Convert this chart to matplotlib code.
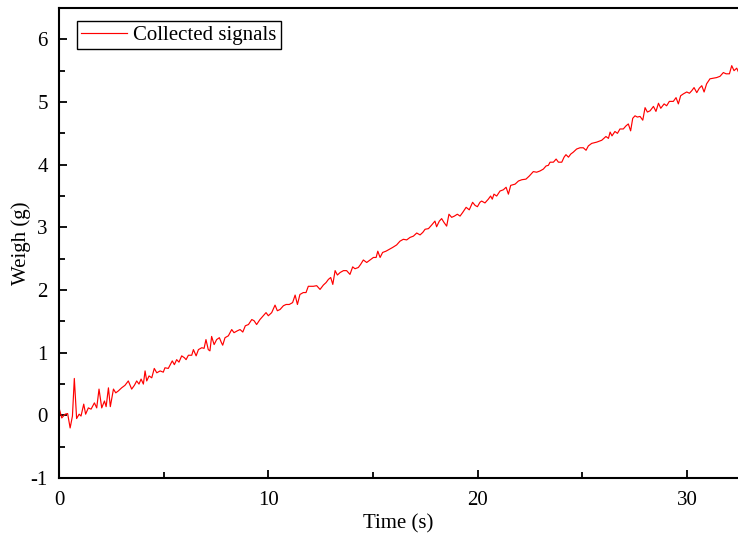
import matplotlib
matplotlib.use("Agg")
import matplotlib.pyplot as plt
from matplotlib.ticker import MultipleLocator

# time (s) and weight (g)
time_s = [0.00, 0.13, 0.29, 0.41, 0.53, 0.64, 0.73, 0.84, 0.96, 1.05, 1.18, 1.27, 1.40, 1.53, 1.69,
          1.80, 1.91, 2.04, 2.17, 2.25, 2.36, 2.45, 2.60, 2.71, 2.83, 2.99, 3.15, 3.31, 3.47, 3.60,
          3.71, 3.82, 3.92, 4.03, 4.11, 4.19, 4.30, 4.43, 4.55, 4.67, 4.83, 4.98, 5.06, 5.22, 5.41,
          5.51, 5.62, 5.73, 5.86, 5.99, 6.07, 6.18, 6.34, 6.42, 6.55, 6.66, 6.82, 6.93, 7.02, 7.13,
          7.21, 7.29, 7.41, 7.53, 7.66, 7.76, 7.82, 7.93, 8.09, 8.25, 8.36, 8.52, 8.65, 8.78, 8.90,
          9.05, 9.21, 9.32, 9.44, 9.60, 9.76, 9.89, 10.00, 10.16, 10.32, 10.43, 10.56, 10.72, 10.85, 11.00,
          11.16, 11.28, 11.39, 11.51, 11.67, 11.80, 11.91, 11.99, 12.15, 12.31, 12.47, 12.63, 12.76, 12.87, 12.98,
          13.08, 13.19, 13.30, 13.43, 13.59, 13.74, 13.90, 14.03, 14.14, 14.30, 14.41, 14.54, 14.70, 14.86, 15.02,
          15.15, 15.23, 15.34, 15.46, 15.62, 15.78, 15.94, 16.13, 16.29, 16.45, 16.61, 16.77, 16.93, 17.09, 17.25,
          17.38, 17.49, 17.65, 17.81, 17.96, 18.04, 18.17, 18.28, 18.39, 18.52, 18.63, 18.76, 18.89, 19.03, 19.16,
          19.29, 19.45, 19.60, 19.76, 19.88, 19.99, 20.11, 20.19, 20.35, 20.51, 20.62, 20.70, 20.78, 20.91, 21.07,
          21.23, 21.36, 21.47, 21.58, 21.79, 21.95, 22.11, 22.31, 22.47, 22.66, 22.82, 22.98, 23.14, 23.27, 23.38,
          23.46, 23.62, 23.75, 23.86, 24.02, 24.13, 24.22, 24.34, 24.45, 24.57, 24.73, 24.89, 25.05, 25.18, 25.29,
          25.45, 25.69, 25.93, 26.13, 26.25, 26.33, 26.42, 26.56, 26.68, 26.80, 26.96, 27.09, 27.20, 27.31, 27.41,
          27.52, 27.63, 27.76, 27.89, 28.00, 28.11, 28.24, 28.40, 28.52, 28.64, 28.75, 28.91, 29.03, 29.16, 29.19,
          29.35, 29.48, 29.59, 29.70, 29.83, 29.99, 30.12, 30.23, 30.34, 30.47, 30.59, 30.71, 30.82, 30.94, 31.10,
          31.26, 31.42, 31.58, 31.74, 31.87, 32.03, 32.14, 32.25, 32.38, 32.50]
weight_g = [0.12, -0.04, 0.02, 0.03, -0.20, -0.01, 0.59, -0.05, 0.02, -0.01, 0.18, 0.02, 0.12, 0.10, 0.20,
            0.12, 0.42, 0.12, 0.23, 0.14, 0.44, 0.14, 0.42, 0.36, 0.39, 0.44, 0.48, 0.55, 0.42, 0.48,
            0.55, 0.50, 0.58, 0.50, 0.71, 0.55, 0.63, 0.60, 0.75, 0.68, 0.71, 0.69, 0.76, 0.75, 0.87,
            0.81, 0.89, 0.85, 0.95, 0.92, 0.89, 0.96, 0.96, 1.05, 0.95, 1.05, 1.08, 1.07, 1.21, 1.05,
            1.03, 1.26, 1.13, 1.21, 1.24, 1.16, 1.12, 1.24, 1.27, 1.37, 1.32, 1.35, 1.37, 1.33, 1.43,
            1.45, 1.53, 1.51, 1.45, 1.53, 1.59, 1.64, 1.59, 1.64, 1.76, 1.67, 1.69, 1.75, 1.77, 1.77,
            1.80, 1.92, 1.77, 1.93, 1.96, 1.96, 2.06, 2.06, 2.06, 2.07, 2.01, 2.08, 2.12, 2.17, 2.20,
            2.09, 2.31, 2.24, 2.28, 2.31, 2.31, 2.25, 2.37, 2.34, 2.36, 2.41, 2.48, 2.44, 2.48, 2.52,
            2.52, 2.62, 2.52, 2.60, 2.62, 2.65, 2.68, 2.72, 2.78, 2.81, 2.80, 2.84, 2.86, 2.91, 2.88,
            2.92, 2.97, 2.98, 3.04, 3.10, 3.01, 3.10, 3.14, 3.08, 3.02, 3.21, 3.16, 3.18, 3.21, 3.18,
            3.24, 3.32, 3.28, 3.40, 3.35, 3.33, 3.40, 3.42, 3.39, 3.45, 3.50, 3.45, 3.53, 3.50, 3.58,
            3.60, 3.64, 3.53, 3.67, 3.69, 3.74, 3.76, 3.77, 3.82, 3.89, 3.88, 3.90, 3.93, 3.98, 3.99,
            4.04, 4.04, 4.09, 4.04, 4.04, 4.12, 4.16, 4.12, 4.17, 4.20, 4.25, 4.27, 4.27, 4.23, 4.30,
            4.34, 4.36, 4.39, 4.45, 4.42, 4.52, 4.46, 4.53, 4.50, 4.57, 4.57, 4.62, 4.65, 4.54, 4.74,
            4.78, 4.76, 4.77, 4.71, 4.91, 4.84, 4.86, 4.93, 4.85, 4.98, 4.90, 4.97, 4.94, 5.01, 5.01,
            5.01, 5.07, 4.97, 5.10, 5.13, 5.16, 5.14, 5.18, 5.23, 5.15, 5.22, 5.26, 5.16, 5.29, 5.37,
            5.38, 5.39, 5.41, 5.47, 5.45, 5.45, 5.58, 5.50, 5.54, 5.45]

plt.rcParams['font.family'] = ['Liberation Serif', 'DejaVu Serif']
plt.rcParams['axes.unicode_minus'] = False

fig = plt.figure(figsize=(7.38, 5.33), dpi=100)
ax = fig.add_axes([0.080, 0.103, 0.920, 0.882])

ax.plot(time_s, weight_g, color='#ff0000', lw=0.85, label='Collected signals')

ax.set_xlim(0, 32.44)
ax.set_ylim(-1, 6.5)
ax.xaxis.set_major_locator(MultipleLocator(10))
ax.xaxis.set_minor_locator(MultipleLocator(5))
ax.yaxis.set_major_locator(MultipleLocator(1))
ax.yaxis.set_minor_locator(MultipleLocator(0.5))
ax.tick_params(which='both', direction='in', labelsize=15, width=1.3)
ax.tick_params(which='major', length=6)
ax.tick_params(axis='x', which='major', pad=9)
ax.tick_params(axis='y', which='major', pad=8)
ax.tick_params(which='minor', length=4)
ax.tick_params(top=False, right=False)

for side in ['left', 'bottom', 'top']:
    ax.spines[side].set_linewidth(1.5)
ax.spines['right'].set_visible(False)

ax.set_xlabel('Time (s)', fontsize=15, labelpad=3)
ax.set_ylabel('Weigh (g)', fontsize=15)
ax.yaxis.set_label_coords(-0.042, 0.5)

leg = ax.legend(loc='upper left', bbox_to_anchor=(0.0265, 0.972), fontsize=15,
                fancybox=False, framealpha=1, edgecolor='black', handlelength=2.2,
                borderpad=0.2, borderaxespad=0.0, handletextpad=0.3)
leg.get_frame().set_linewidth(1.0)

fig.savefig('out.png', dpi=100)
